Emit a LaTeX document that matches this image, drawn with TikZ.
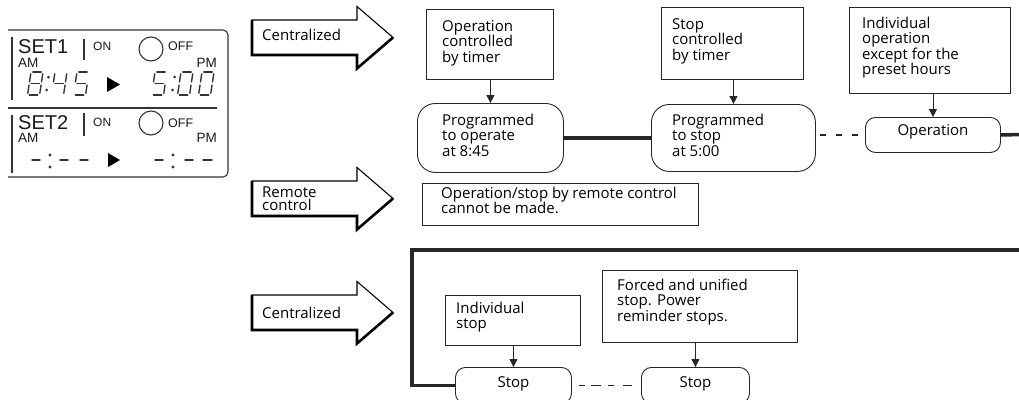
\documentclass[tikz,border=0pt]{standalone}
\usepackage{fontspec}
\setmainfont{Open Sans}
\newfontfamily\lcdfont{Liberation Sans}
\usetikzlibrary{arrows.meta}
\newcommand\sseg[9]{%
  \begin{scope}[shift={(#1,#2)},xslant=0.15]
    \ifnum#3=1 \draw[seg] (1.8,0)--(10.2,0);\fi
    \ifnum#4=1 \draw[seg] (12,1.8)--(12,10);\fi
    \ifnum#5=1 \draw[seg] (12,13)--(12,21.2);\fi
    \ifnum#6=1 \draw[seg] (1.8,23)--(10.2,23);\fi
    \ifnum#7=1 \draw[seg] (0,13)--(0,21.2);\fi
    \ifnum#8=1 \draw[seg] (0,1.8)--(0,10);\fi
    \ifnum#9=1 \draw[seg] (1.8,11.5)--(10.2,11.5);\fi
  \end{scope}}
\newcommand\bigarrow[1]{%
  \draw[line width=1.1pt, line join=miter] (252,#1-17.5) -- (357,#1-17.5) -- (357,#1-31) -- (393,#1) -- (357,#1+31) -- (357,#1+17.5) -- (252,#1+17.5) -- cycle;
  \draw[line width=2.6pt] (252,#1-17.5) -- (252,#1+17.5) -- (357,#1+17.5) -- (357,#1+31) -- (393,#1);}
\begin{document}
\begin{tikzpicture}[x=1pt,y=-1pt,
  box/.style={draw=black!85, line width=0.9pt, inner sep=0pt, anchor=north west},
  rbox/.style={box, rounded corners=#1},
  rbox/.default=10pt,
  txt/.style={inner sep=0pt, anchor=base west, align=left, font=\fontsize{15}{15.6}\selectfont},
  ctxt/.style={font=\fontsize{15}{15.6}\selectfont},
  arr/.style={draw=black!85, line width=0.9pt, -{Triangle[width=8pt,length=8pt]}},
  bar/.style={line width=3.5pt, draw=black!85},
  seg/.style={line width=1.4pt, draw=black!80, line cap=round},
  lcdline/.style={line width=1.1pt, draw=black!80},
  lcd/.style={inner sep=0pt, text=black!90}
]
\useasboundingbox (0,0) rectangle (1019,399);
\clip (0,0) rectangle (1019,399);

% ---------- LCD panel ----------
\draw[lcdline, rounded corners=5pt] (8,30) -- (228,30) -- (228,177) -- (8,177);
\draw[lcdline] (12,37) -- (12,100);
\draw[lcdline] (12,115) -- (12,173);
\draw[lcdline] (8,108) -- (217,108);
\node[lcd, anchor=base west, font=\lcdfont\fontsize{20}{20}\selectfont] (set1) at (18,53) {SET1};
\node[lcd, anchor=base west, font=\lcdfont\fontsize{13.5}{13.5}\selectfont] (am1) at (18,67) {AM};
\draw[lcdline] (84,39) -- (84,60);
\node[lcd, anchor=base west, font=\lcdfont\fontsize{12}{12}\selectfont] (on1) at (93,50) {ON};
\draw[lcdline] (151,49) circle (12);
\node[lcd, anchor=base west, font=\lcdfont\fontsize{12.5}{12.5}\selectfont] (off1) at (168,50) {OFF};
\node[lcd, anchor=base east, font=\lcdfont\fontsize{13.5}{13.5}\selectfont] (pm1) at (217,67) {PM};
% digits 8:45 > 5:00
\sseg{31}{72}{1}{1}{1}{1}{1}{1}{1}
\fill[black!80] (48.5,77) circle (1.5) (46.6,90) circle (1.5);
\sseg{55}{72}{0}{1}{1}{0}{0}{1}{1}
\sseg{77}{72}{1}{0}{1}{1}{0}{1}{1}
\fill[black] (107,77) -- (120,84.5) -- (107,92) -- cycle;
\sseg{155}{72}{1}{0}{1}{1}{0}{1}{1}
\fill[black!80] (174.5,77) circle (1.5) (172.6,90) circle (1.5);
\sseg{181}{72}{1}{1}{1}{1}{1}{1}{0}
\sseg{202}{72}{1}{1}{1}{1}{1}{1}{0}
% SET2
\node[lcd, anchor=base west, font=\lcdfont\fontsize{20}{20}\selectfont] (set2) at (18,129.5) {SET2};
\node[lcd, anchor=base west, font=\lcdfont\fontsize{13.5}{13.5}\selectfont] (am2) at (18,142) {AM};
\draw[lcdline] (84,113) -- (84,136);
\node[lcd, anchor=base west, font=\lcdfont\fontsize{12}{12}\selectfont] (on2) at (93,126) {ON};
\draw[lcdline] (151,123) circle (12);
\node[lcd, anchor=base west, font=\lcdfont\fontsize{12.5}{12.5}\selectfont] (off2) at (168,127) {OFF};
\node[lcd, anchor=base east, font=\lcdfont\fontsize{13.5}{13.5}\selectfont] (pm2) at (217,142) {PM};
\draw[seg] (32,160) -- (40,160) (60,160) -- (68,160) (80,160) -- (88,160);
\fill[black!80] (50,155) circle (1.6) (50,167) circle (1.6);
\fill[black] (108,153) -- (120,160) -- (108,167) -- cycle;
\draw[seg] (155,160) -- (163,160) (185,160) -- (193,160) (203,160) -- (212,160);
\fill[black!80] (173,155) circle (1.6) (173,167) circle (1.6);

% ---------- big arrows ----------
\bigarrow{37.5}
\node[txt] (c1) at (262,40) {Centralized};
\bigarrow{198.5}
\node[txt, font=\fontsize{15}{13.4}\selectfont] (rc) at (262,210.4) {Remote\\control};
\bigarrow{312.5}
\node[txt] (c2) at (262,318) {Centralized};

% ---------- top row ----------
\node[box, minimum width=127pt, minimum height=70pt] (b1) at (426,9) {};
\node[txt] (t1) at (442,62.2) {Operation\\controlled\\by timer};
\node[rbox=18pt, minimum width=146pt, minimum height=69pt] (n1) at (417,103) {};
\node[txt] (t2) at (442,156.2) {Programmed\\to operate\\at 8:45};
\draw[arr] (n1.north |- b1.south) -- (n1.north);

\node[box, minimum width=142pt, minimum height=72pt] (b2) at (661,7) {};
\node[txt] (t3) at (672,60.2) {Stop\\controlled\\by timer};
\node[rbox=18pt, minimum width=164pt, minimum height=67pt] (n2) at (651,104) {};
\node[txt] (t4) at (672,156.2) {Programmed\\to stop\\at 5:00};
\draw[arr] (n2.north |- b2.south) -- (n2.north);

\node[box, minimum width=161pt, minimum height=86pt] (b3) at (849,7) {};
\node[txt] (t5) at (862,74.8) {Individual\\operation\\except for the\\preset hours};
\node[rbox=10pt, ctxt, minimum width=135pt, minimum height=35pt, text height=10.5pt, text depth=9.5pt] (n3) at (865,117) {Operation};
\draw[arr] (n3.north |- b3.south) -- (n3.north);

\coordinate (e1) at (1025,134.5);
\draw[bar] (n1.east) -- (n2.west);
\draw[line width=1.2pt, draw=black!85, dash pattern=on 0pt off 4pt on 6pt off 10pt on 6pt off 10pt on 6pt off 30pt] (n2.east |- n3.west) -- (n3.west);
\draw[bar] (n3.east) -- (e1);

% ---------- remote ----------
\node[box, minimum width=276pt, minimum height=42pt] (b4) at (422,183) {};
\node[txt, font=\fontsize{15}{15}\selectfont] (t6) at (441,213) {Operation/stop by remote control\\cannot be made.};

% ---------- bottom ----------
\node[box, minimum width=135pt, minimum height=50pt] (b5) at (445,295) {};
\node[txt] (t7) at (456,328.6) {Individual\\stop};
\node[rbox=10pt, ctxt, minimum width=116pt, minimum height=36pt, text height=10.5pt, text depth=6pt] (s1) at (455,367) {Stop};
\draw[arr] (s1.north |- b5.south) -- (s1.north);

\node[box, minimum width=195pt, minimum height=72pt] (b6) at (602,270) {};
\node[txt] (t8) at (617,321.2) {Forced and unified\\stop. Power\\reminder stops.};
\node[rbox=10pt, ctxt, minimum width=108pt, minimum height=36pt, text height=10.5pt, text depth=6pt] (s2) at (641,367) {Stop};
\draw[arr] (s2.north |- b6.south) -- (s2.north);

\draw[line width=1.2pt, draw=black!85, dash pattern=on 0pt off 7pt on 6pt off 6pt on 10pt off 7pt on 6pt off 9pt on 9pt off 30pt] (s1.east) -- (s2.west);
\coordinate (e2) at (1025,250);
\draw[bar] (e2) -- (412,250) |- (s1.west);
\end{tikzpicture}
\end{document}
